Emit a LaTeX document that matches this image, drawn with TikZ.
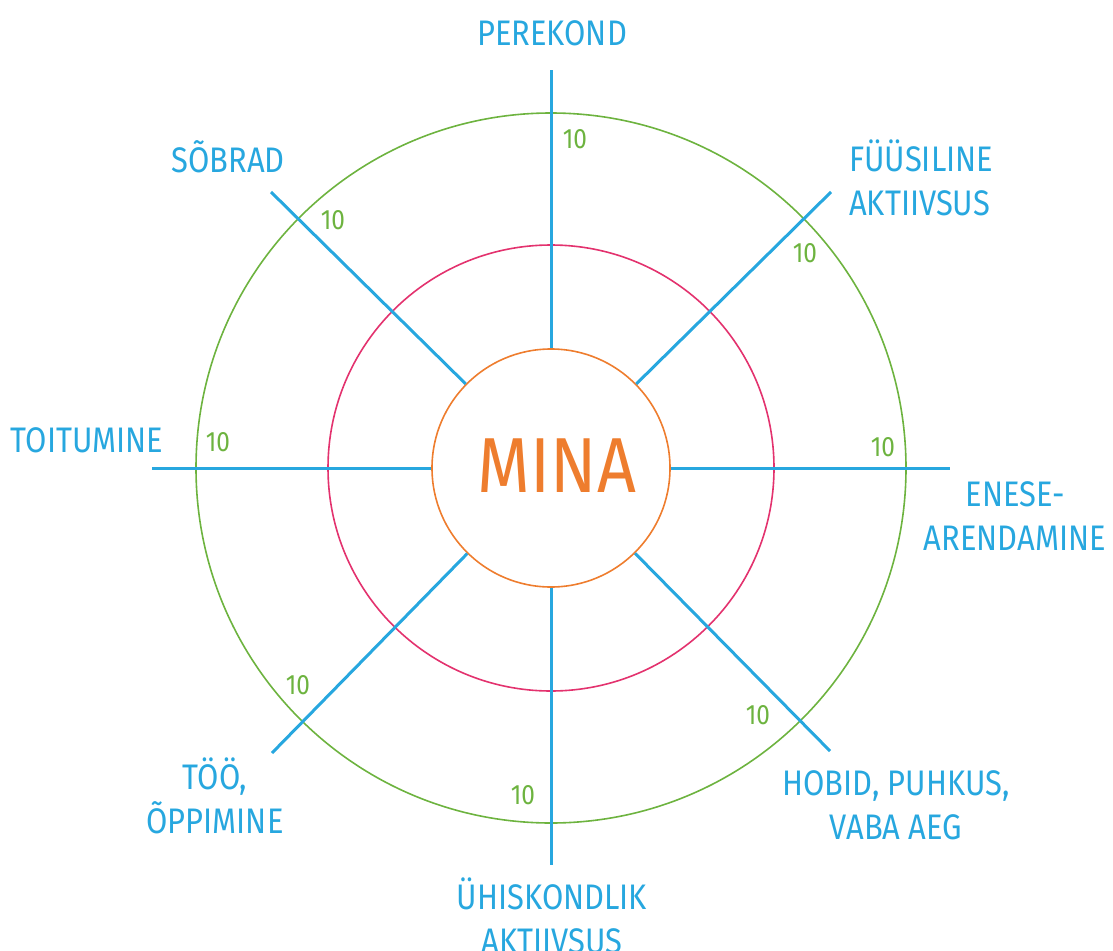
\documentclass[tikz,border=0pt]{standalone}
\usepackage{fontspec}
\setmainfont{Fira Sans}[FakeStretch=0.87]
\definecolor{cblue}{HTML}{27A7DF}
\definecolor{corange}{HTML}{EE7D2E}
\definecolor{cpink}{HTML}{E3326E}
\definecolor{cgreen}{HTML}{6DB33F}
\tikzset{
  spoke/.style={draw=cblue, line width=3pt},
  lbl/.style={text=cblue, font=\fontsize{35.5}{44}\selectfont, align=center, inner sep=0pt},
  ten/.style={text=cgreen, font=\fontsize{28}{32}\selectfont, inner sep=0pt},
  ring/.style={line width=1.6pt}
}
\begin{document}
\begin{tikzpicture}[x=1pt,y=-1pt]
\useasboundingbox (0,0) rectangle (1113,950);
\coordinate (c) at (551,468);
\draw[ring, cgreen] (c) circle (355);
\draw[ring, cpink] (c) circle (223);
\node[circle, draw=corange, ring, minimum size=238pt, inner sep=0pt] (mina) at (c) {};
\node[text=corange, font=\fontsize{78}{90}\selectfont, inner sep=0pt] (minatext) at (557,466) {MINA};
% spoke ends
\coordinate (eN) at (551,70);
\coordinate (eS) at (551,865);
\coordinate (eW) at (152,468);
\coordinate (eE) at (950,468);
\coordinate (eNW) at (271,192);
\coordinate (eNE) at (831,192);
\coordinate (eSW) at (272,753);
\coordinate (eSE) at (830,751);
\foreach \e in {eN,eS,eW,eE,eNW,eNE,eSW,eSE} \draw[spoke] (mina) -- (\e);
% tens
\node[ten] (tN) at (575,139) {10};
\node[ten] (tNW) at (333,220) {10};
\node[ten] (tNE) at (805,253) {10};
\node[ten] (tW) at (218,442) {10};
\node[ten] (tE) at (883,447) {10};
\node[ten] (tSW) at (298,685) {10};
\node[ten] (tSE) at (758,715) {10};
\node[ten] (tS) at (523,795) {10};
% labels
\node[lbl] (lN) at (552,33) {PEREKOND};
\node[lbl] (lNW) at (228,157) {SÕBRAD};
\node[lbl, align=left, anchor=west] (lNE) at (849,178) {FÜÜSILINE\\AKTIIVSUS};
\node[lbl] (lW) at (87,440) {TOITUMINE};
\node[lbl] (lE) at (1015,516) {ENESE-\\ARENDAMINE};
\node[lbl] (lSW) at (215,796) {TÖÖ,\\ÕPPIMINE};
\node[lbl] (lSE) at (896,805) {HOBID, PUHKUS,\\VABA AEG};
\node[lbl] (lS) at (552,916) {ÜHISKONDLIK\\AKTIIVSUS};
\end{tikzpicture}
\end{document}
